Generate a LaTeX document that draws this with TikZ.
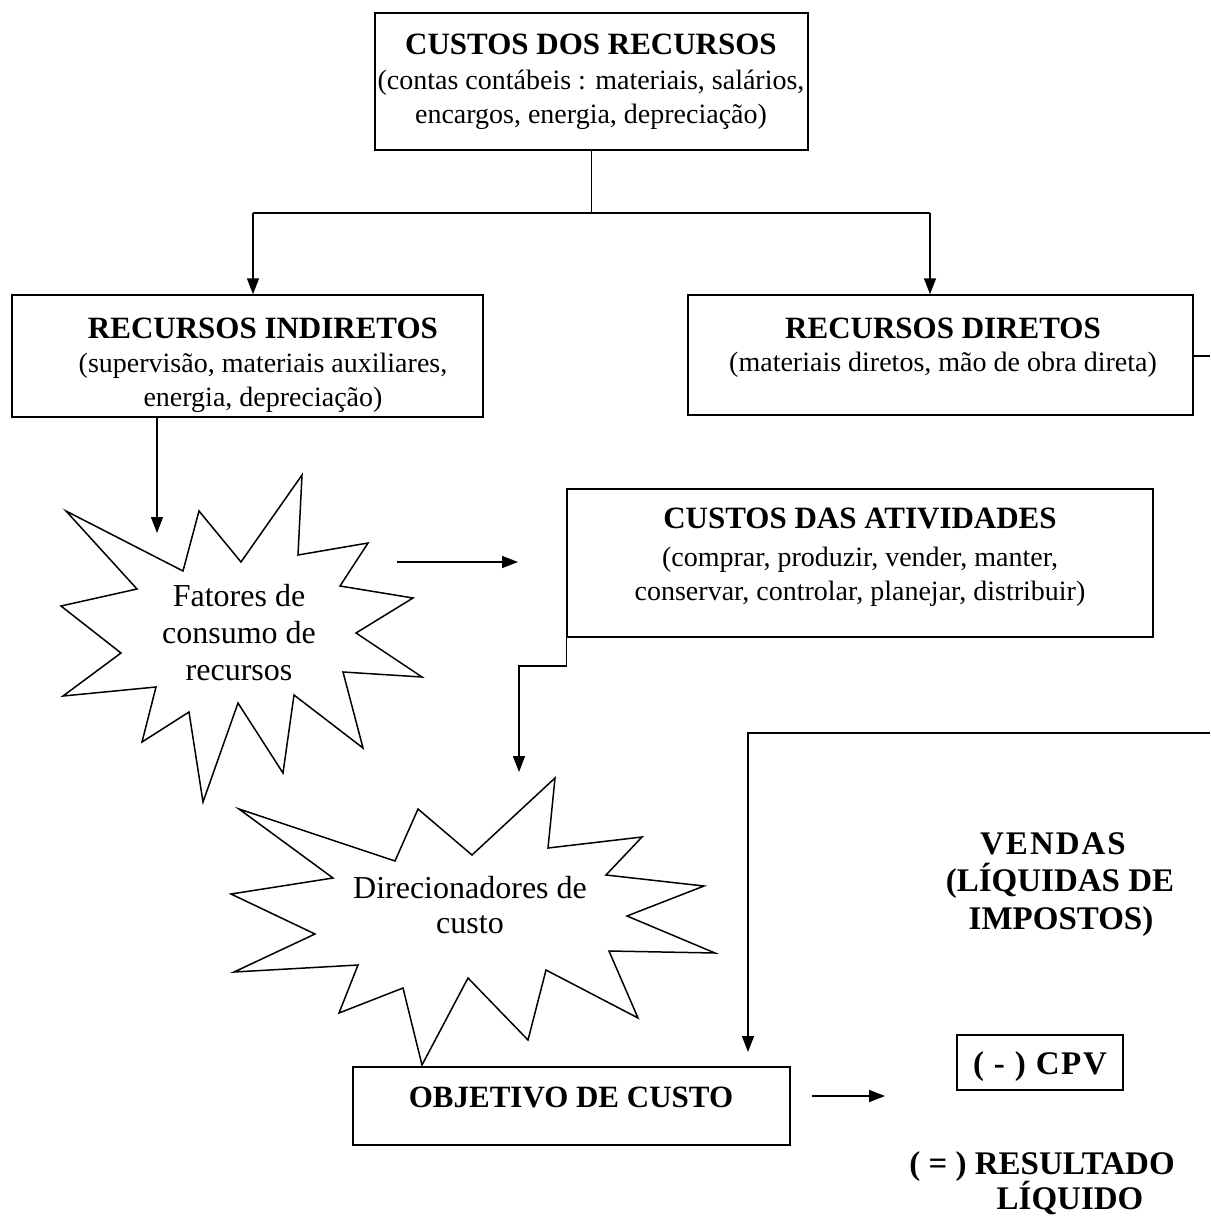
\documentclass[tikz,border=0pt]{standalone}
\usepackage{fontspec}
\setmainfont{Liberation Serif}
\usetikzlibrary{arrows.meta}
\begin{document}
\begin{tikzpicture}[x=1pt,y=-1pt,
  box/.style={draw, line width=1.5pt, inner sep=0pt},
  body/.style={anchor=base, inner sep=0pt, font=\fontsize{28}{34}\selectfont},
  ttl/.style={anchor=base, inner sep=0pt, font=\fontsize{31}{36}\bfseries\selectfont},
  bigttl/.style={anchor=base, inner sep=0pt, font=\fontsize{33}{38}\bfseries\selectfont},
  startxt/.style={anchor=base, inner sep=0pt, font=\fontsize{32}{37}\selectfont},
  conn/.style={line width=1.5pt},
  arr/.style={line width=1.5pt, -{Triangle[length=16pt,width=12pt]}},
  starline/.style={line width=1.5pt, line join=miter}]
\useasboundingbox (0,0) rectangle (1210,1217);
\fill[white] (0,0) rectangle (1210,1217);

% boxes
\node[box, minimum width=433pt, minimum height=137pt] (top) at (591.5,81.5) {};
\node[box, minimum width=471pt, minimum height=122pt] (indir) at (247.5,356) {};
\node[box, minimum width=505pt, minimum height=120pt] (direct) at (940.5,355) {};
\node[box, minimum width=586pt, minimum height=148pt] (ativ) at (860,563) {};
\node[box, minimum width=437pt, minimum height=78pt] (obj) at (571.5,1106) {};
\node[box, minimum width=166pt, minimum height=55pt] (cpv) at (1040,1062.5) {};

% texts
\node[ttl]  (topT)  at (591,55)  {CUSTOS DOS RECURSOS};
\node[body] (topA)  at (591,90)  {(contas contábeis : materiais, salários,};
\node[body] (topB)  at (591,124) {encargos, energia, depreciação)};

\node[ttl]  (indT)  at (263,338) {RECURSOS INDIRETOS};
\node[body] (indA)  at (263,372) {(supervisão, materiais auxiliares,};
\node[body] (indB)  at (263,406) {energia, depreciação)};

\node[ttl]  (dirT)  at (943,338) {RECURSOS DIRETOS};
\node[body] (dirA)  at (943,371) {(materiais diretos, mão de obra direta)};

\node[ttl]  (atvT)  at (860,528) {CUSTOS DAS ATIVIDADES};
\node[body] (atvA)  at (860,566) {(comprar, produzir, vender, manter,};
\node[body] (atvB)  at (860,600) {conservar, controlar, planejar, distribuir)};

\node[ttl]  (objT)  at (571,1107) {OBJETIVO DE CUSTO};
\node[bigttl] (cpvT) at (1040,1074) {\addfontfeature{LetterSpace=5}( - ) CPV};

\node[bigttl] (venA) at (1053,854) {\addfontfeature{LetterSpace=6}VENDAS};
\node[bigttl] (venB) at (1060,891) {(LÍQUIDAS DE};
\node[bigttl] (venC) at (1061,929) {IMPOSTOS)};

\node[bigttl] (resA) at (1042,1174) {( = ) RESULTADO};
\node[bigttl] (resB) at (1070,1209) {LÍQUIDO};

% star 1
\draw[starline] (66,511) -- (183,571) -- (199,511) -- (241,562) -- (302,475) -- (298,555)
  -- (368,543) -- (340,586) -- (413,598) -- (356,633) -- (422,677) -- (343,672)
  -- (363,748) -- (294,695) -- (283,773) -- (238,703) -- (203,802) -- (189,712)
  -- (142,742) -- (156,687) -- (63,696) -- (121,653) -- (61,606) -- (137,589) -- cycle;
\node[startxt] (s1a) at (239,606) {Fatores de};
\node[startxt] (s1b) at (239,643) {consumo de};
\node[startxt] (s1c) at (239,680) {recursos};

% star 2
\draw[starline] (239,809) -- (395,861) -- (418,809) -- (472,855) -- (555,778) -- (548,848)
  -- (642,837) -- (606,875) -- (704,886) -- (627,916) -- (715,953) -- (609,951)
  -- (638,1018) -- (546,970) -- (528,1040) -- (468,978) -- (422,1065) -- (403,988)
  -- (339,1013) -- (358,965) -- (234,972) -- (315,934) -- (231,894) -- (333,878) -- cycle;
\node[startxt] (s2a) at (470,898) {Direcionadores de};
\node[startxt] (s2b) at (470,933) {custo};

% connector coordinates
\coordinate (jl) at (253,213);
\coordinate (jr) at (930,213);
\coordinate (rdEnd) at (1210,356);
\coordinate (s1tip) at (157,533);
\coordinate (hA) at (397,562);
\coordinate (hB) at (518,562);
\coordinate (s2tip) at (519,772);
\coordinate (vTop) at (1210,733);
\coordinate (vCorner) at (748,733);
\coordinate (vTip) at (748,1052);
\coordinate (oA) at (812,1096);
\coordinate (oB) at (885,1096);

% connectors
\draw[conn] (top.south) -- (top.south |- jl);
\draw[conn] (jl) -- (jr);
\draw[arr] (jl) -- (jl |- indir.north);
\draw[arr] (jr) -- (jr |- direct.north);
\draw[conn] (direct.east |- rdEnd) -- (rdEnd);
\draw[arr] (indir.south -| s1tip) -- (s1tip);
\draw[arr] (hA) -- (hB);
\draw[arr] (ativ.south west) -- ++(0,28) -| (s2tip);
\draw[arr] (vTop) -- (vCorner) -- (vTip);
\draw[arr] (oA) -- (oB);
\end{tikzpicture}
\end{document}
